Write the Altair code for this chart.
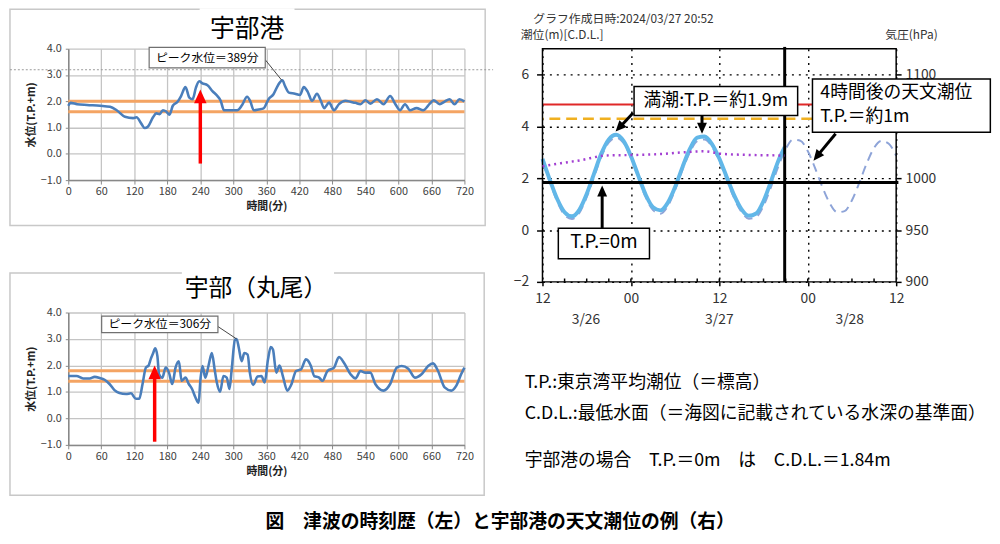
import altair as alt
import pandas as pd

FONT = "Noto Sans CJK JP"

# ---------------- 宇部港 : tsunami time history ----------------
UBE_T = [0, 4, 16, 34, 58, 76, 88, 103, 118, 124,
         133, 139, 145, 154, 160, 166, 172, 178, 184, 190,
         199, 205, 213, 220, 226, 232, 238, 244, 253, 262,
         271, 277, 283, 292, 307, 316, 325, 331, 337, 346,
         355, 364, 373, 382, 389, 394, 401, 412, 421, 428,
         435, 443, 452, 459, 465, 474, 483, 492, 504, 513,
         522, 531, 540, 549, 561, 573, 585, 594, 603, 612,
         621, 633, 645, 657, 664, 675, 684, 693, 702, 711,
         720]
UBE_V = [1.83, 1.94, 1.89, 1.86, 1.83, 1.79, 1.66, 1.41, 1.36, 1.39,
         1.14, 0.98, 1.04, 1.39, 1.54, 1.51, 1.66, 1.61, 1.49, 1.83,
         1.99, 2.20, 2.54, 2.14, 2.08, 2.52, 2.76, 2.68, 2.61, 2.39,
         2.20, 2.02, 1.66, 1.66, 1.66, 1.86, 2.17, 1.99, 1.66, 1.69,
         1.73, 2.08, 2.27, 2.64, 2.80, 2.58, 2.33, 2.29, 2.24, 2.54,
         2.37, 2.02, 2.29, 2.02, 1.74, 1.95, 1.66, 1.89, 2.02, 1.98,
         1.94, 1.89, 2.04, 1.91, 2.08, 1.89, 2.20, 1.91, 1.66, 1.89,
         1.66, 1.74, 1.66, 1.91, 2.04, 1.89, 1.99, 2.08, 1.89, 2.08,
         1.99]
UBE_BAND = [2.0, 1.6]

# ---------------- 宇部（丸尾） ----------------
MARUO_T = [0, 15, 27, 39, 48, 57, 66, 75, 84, 93,
           105, 114, 123, 129, 135, 141, 146, 150, 154, 158,
           162, 165, 171, 177, 183, 189, 195, 201, 206, 213,
           219, 225, 231, 237, 240, 244, 249, 255, 261, 266,
           270, 276, 282, 288, 293, 297, 303, 306, 310, 315,
           320, 326, 330, 336, 344, 351, 357, 363, 368, 372,
           378, 384, 390, 398, 405, 414, 423, 432, 441, 447,
           456, 462, 471, 483, 492, 501, 513, 522, 531, 540,
           549, 558, 573, 585, 597, 606, 618, 630, 642, 654,
           663, 672, 684, 696, 705, 714, 720]
MARUO_V = [1.60, 1.60, 1.51, 1.51, 1.57, 1.53, 1.46, 1.30, 1.07, 0.96,
           0.92, 0.95, 0.74, 0.74, 1.30, 1.92, 2.00, 2.25, 2.45, 2.65,
           2.35, 1.67, 1.54, 1.92, 1.73, 1.30, 1.92, 2.16, 1.42, 1.54,
           1.30, 1.11, 0.80, 0.59, 1.42, 1.98, 1.54, 2.00, 2.47, 1.85,
           1.36, 1.01, 1.60, 1.54, 1.11, 1.85, 2.97, 3.00, 2.66, 2.16,
           2.47, 2.41, 1.73, 1.26, 1.58, 1.60, 1.36, 2.23, 2.70, 2.60,
           1.73, 2.00, 1.60, 1.05, 1.26, 1.79, 1.85, 2.23, 1.98, 1.60,
           1.54, 1.42, 1.79, 1.92, 2.32, 2.10, 1.67, 1.51, 1.79, 1.73,
           1.73, 1.30, 1.05, 1.30, 1.92, 1.98, 1.88, 1.54, 1.67, 1.98,
           2.08, 1.79, 1.17, 1.05, 1.23, 1.67, 1.92]
MARUO_BAND = [1.8, 1.4]

MIN_TICKS = list(range(0, 721, 60))
LEVEL_TICKS = [-1.0, 0.0, 1.0, 2.0, 3.0, 4.0]

# ---------------- 宇部港 astronomical tide (hours from 3/26 12:00) ----------------
OBS_H = list(range(0, 33)) + [32.87]
OBS_TIDE = [2.75, 1.94, 1.20, 0.69, 0.53, 0.78, 1.39, 2.18, 2.96, 3.50,
            3.68, 3.44, 2.86, 2.10, 1.37, 0.88, 0.76, 1.05, 1.66, 2.43,
            3.13, 3.57, 3.61, 3.32, 2.76, 2.05, 1.35, 0.81, 0.55, 0.64,
            1.12, 1.87, 2.67, 3.20]
PRED_H = list(range(0, 49))
PRED_TIDE = [2.60, 1.85, 1.10, 0.58, 0.43, 0.66, 1.27, 2.05, 2.84, 3.38,
             3.57, 3.36, 2.78, 2.02, 1.27, 0.77, 0.63, 0.92, 1.55, 2.32,
             3.00, 3.43, 3.50, 3.22, 2.66, 1.95, 1.24, 0.70, 0.44, 0.51,
             0.94, 1.65, 2.45, 3.12, 3.49, 3.45, 3.05, 2.39, 1.65, 1.03,
             0.69, 0.73, 1.15, 1.83, 2.57, 3.17, 3.44, 3.33, 2.87]
PRES_H = [0, 2.5, 5.1, 8.7, 12.7, 16.4, 19.1, 21.8, 24.5, 28.1, 32.87]
PRES_HPA = [1011.5, 1014.5, 1017.3, 1022.0, 1022.5, 1023.5, 1025.0, 1026.0, 1023.5, 1022.5, 1022.0]
ALERT_LEVEL = 4.85
REF_LEVEL = 4.3
TP0_CDL = 1.84
NOW_H = 32.87
HOUR_TICKS = [0, 12, 24, 36, 48]
MINOR_H = list(range(3, 48, 3))
TIDE_TICKS = [-2, 0, 2, 4, 6]
HPA_TICKS = [900, 950, 1000, 1050, 1100]
DATE_LABELS = ["3/26", "3/27", "3/28"]
DATE_H = [5.9, 24.0, 41.7]

ARROW_PATH = "M0,0L-1,2.2L1,2.2Z"
RED_ARROW_PATH = "M0,0L-0.9,2L0.9,2Z"

one = pd.DataFrame({"k": [0]})


def tsunami_panel(title, t, v, band, peak_label, box, leader, arrow, frame, gap,
                  title_xy, title_size, height, dotted=None):
    xs = alt.Scale(domain=[0, 720], nice=False, zero=False)
    ys = alt.Scale(domain=[-1, 4], nice=False, zero=False)
    xaxis = alt.Axis(values=MIN_TICKS, title="時間(分)", labelFontSize=11, labelColor="#404040",
                     labelPadding=2, tickSize=4, tickColor="#888888", domainColor="#888888",
                     domainWidth=1.5, gridColor="#c4c4c4", gridWidth=1.3, titleFontSize=11,
                     titleFontWeight="bold", titleColor="#222222", titlePadding=4, labelFlush=False,
                     labelOverlap=False, labelSeparation=0)
    yaxis = alt.Axis(values=LEVEL_TICKS, format=".1f", title="水位(T.P.+m)", labelFontSize=11,
                     labelColor="#404040", labelPadding=4, tickSize=3, tickColor="#888888",
                     domainColor="#888888", domainWidth=1.5, gridColor="#c4c4c4", gridWidth=1.3,
                     titleFontSize=11, titleFontWeight="bold", titleColor="#222222", titlePadding=4,
                     labelOverlap=False, labelFlush=False, labelSeparation=0)

    def X(f="t:Q"):
        return alt.X(f, scale=xs, axis=xaxis)

    def Y(f="v:Q"):
        return alt.Y(f, scale=ys, axis=yaxis)

    frame_l = alt.Chart(one).mark_rect(fill="transparent", stroke="#c8c8c8", strokeWidth=1.5).encode(
        x=alt.value(frame[0]), x2=alt.value(frame[1]), y=alt.value(frame[2]), y2=alt.value(frame[3]))
    gap_l = alt.Chart(one).mark_rect(fill="white").encode(
        x=alt.value(gap[0]), x2=alt.value(gap[1]), y=alt.value(gap[2]), y2=alt.value(gap[3]))
    title_l = alt.Chart(one).mark_text(text=title, fontSize=title_size, color="black", align="center",
                                       baseline="middle").encode(
        x=alt.value(title_xy[0]), y=alt.value(title_xy[1]))
    line_l = alt.Chart(pd.DataFrame({"t": t, "v": v})).mark_line(
        color="#4a7ebb", strokeWidth=2.6, interpolate="monotone").encode(x=X(), y=Y())
    band_l = alt.Chart(pd.DataFrame({"v": band})).mark_rule(color="#f4a463", strokeWidth=3).encode(y=Y())
    leader_l = alt.Chart(pd.DataFrame({"t": [leader[0]], "v": [leader[1]],
                                       "t2": [leader[2]], "v2": [leader[3]]})).mark_rule(
        color="#444444", strokeWidth=1).encode(x=X(), y=Y(), x2="t2:Q", y2="v2:Q")
    box_l = alt.Chart(pd.DataFrame({"t": [box[0]], "t2": [box[1]], "v": [box[2]], "v2": [box[3]]})).mark_rect(
        fill="white", stroke="#707070", strokeWidth=1.2).encode(x=X(), x2="t2:Q", y=Y(), y2="v2:Q")
    box_txt = alt.Chart(pd.DataFrame({"t": [(box[0] + box[1]) / 2], "v": [(box[2] + box[3]) / 2]})).mark_text(
        text=peak_label, fontSize=12, color="black", align="center", baseline="middle").encode(x=X(), y=Y())
    shaft = alt.Chart(pd.DataFrame({"t": [arrow[0]], "v": [arrow[1]], "v2": [arrow[2]]})).mark_rule(
        color="#ff0000", strokeWidth=3.5).encode(x=X(), y=Y(), y2="v2:Q")
    head = alt.Chart(pd.DataFrame({"t": [arrow[0]], "v": [arrow[3]]})).mark_point(
        shape=RED_ARROW_PATH, filled=True, size=196, color="#ff0000", opacity=1, strokeWidth=0).encode(
        x=X(), y=Y())

    layers = [frame_l, gap_l, title_l]
    if dotted is not None:
        layers.append(alt.Chart(pd.DataFrame({"v": [dotted[0]]})).mark_rule(
            color="#999999", strokeWidth=1, strokeDash=[2, 2]).encode(
            y=Y(), x=alt.value(dotted[1]), x2=alt.value(dotted[2])))
    layers += [band_l, line_l, leader_l, box_l, box_txt, shaft, head]
    return alt.layer(*layers).properties(width=401, height=height)


panel_a = tsunami_panel("宇部港", UBE_T, UBE_V, UBE_BAND, "ピーク水位＝389分",
                        box=(147, 358, 3.27, 4.05), leader=(358, 3.58, 388, 2.8),
                        arrow=(240, -0.37, 2.0, 2.45), frame=(-59, 422, -40, 179),
                        gap=(133, 229, -41, -39), title_xy=(181, -20), title_size=25, height=133,
                        dotted=(3.2, -59, 430))
panel_b = tsunami_panel("宇部（丸尾）", MARUO_T, MARUO_V, MARUO_BAND, "ピーク水位＝306分",
                        box=(60.7, 272, 3.24, 3.86), leader=(272, 3.47, 306, 3.0),
                        arrow=(157, -0.88, 1.55, 2.0), frame=(-59, 421, -40, 185),
                        gap=(115, 269, -41, -39), title_xy=(190, -24), title_size=24, height=134)

# ---------------- right: tide chart ----------------
hs = alt.Scale(domain=[0, 48], nice=False, zero=False)
ts = alt.Scale(domain=[-2, 7], nice=False, zero=False)
ps = alt.Scale(domain=[900, 1125], nice=False, zero=False)
haxis = alt.Axis(values=HOUR_TICKS, labelExpr="datum.value % 24 == 0 ? '12' : '00'", title=None,
                 grid=True, gridDash=[2, 5], gridColor="black", gridWidth=1.4, domain=False,
                 tickColor="black", tickSize=4, tickWidth=1.5, labelFontSize=14, labelColor="#333333",
                 labelPadding=6, labelFlush=False, labelOverlap=False)
taxis = alt.Axis(values=TIDE_TICKS, title=None, grid=True, gridDash=[2, 5], gridColor="black",
                 gridWidth=1.4, domain=False, tickColor="black", tickSize=6, tickWidth=1.5,
                 labelFontSize=14, labelColor="#333333", labelPadding=8, labelOverlap=False)
paxis = alt.Axis(orient="right", values=HPA_TICKS, format="d", title=None, grid=False, domain=False,
                 tickColor="black", tickSize=5, tickWidth=1.5, labelFontSize=14,
                 labelColor="#333333", labelPadding=4, zindex=0, labelOverlap=False)
HX = alt.X("h:Q", scale=hs, axis=haxis)
TY = alt.Y("tide:Q", scale=ts, axis=taxis)


def hx():
    return alt.X("h:Q", scale=hs)


def ty():
    return alt.Y("tide:Q", scale=ts)


anchor = alt.Chart(one).mark_rect(opacity=0).encode(
    x=alt.value(-40), x2=alt.value(-39), y=alt.value(-41), y2=alt.value(-40))
pred_l = alt.Chart(pd.DataFrame({"h": PRED_H, "tide": PRED_TIDE})).mark_line(
    color="#8ea4d8", strokeWidth=2, strokeDash=[9, 6], interpolate="monotone").encode(x=HX, y=TY)
obs_l = alt.Chart(pd.DataFrame({"h": OBS_H, "tide": OBS_TIDE})).mark_line(
    color="#62b7e8", strokeWidth=4, interpolate="monotone").encode(x=hx(), y=ty())
alert_l = alt.Chart(pd.DataFrame({"tide": [ALERT_LEVEL]})).mark_rule(color="#e02828", strokeWidth=2).encode(y=ty())
ref_l = alt.Chart(pd.DataFrame({"tide": [REF_LEVEL]})).mark_rule(
    color="#f0b020", strokeWidth=2.5, strokeDash=[11, 6]).encode(y=ty())
frame_r = alt.Chart(pd.DataFrame({"h": [0], "h2": [48], "tide": [-2], "tide2": [7]})).mark_rect(
    fill="transparent", stroke="black", strokeWidth=1.5).encode(x=hx(), x2="h2:Q", y=ty(), y2="tide2:Q")
minor_l = alt.Chart(pd.DataFrame({"h": MINOR_H, "tide": [-2] * len(MINOR_H),
                                  "tide2": [-1.87] * len(MINOR_H)})).mark_rule(
    color="black", strokeWidth=1.5).encode(x=hx(), y=ty(), y2="tide2:Q")
tp0_l = alt.Chart(pd.DataFrame({"h": [0], "h2": [48.3], "tide": [TP0_CDL]})).mark_rule(
    color="black", strokeWidth=3).encode(x=hx(), x2="h2:Q", y=ty())
now_l = alt.Chart(pd.DataFrame({"h": [NOW_H], "tide": [-2], "tide2": [7.07]})).mark_rule(
    color="black", strokeWidth=3).encode(x=hx(), y=ty(), y2="tide2:Q")

shafts = pd.DataFrame({"h": [12.29, 21.65, 39.78, 8.1], "tide": [4.52, 4.42, 3.72, 0.07],
                       "h2": [10.74, 21.65, 37.55, 8.1], "tide2": [4.05, 4.06, 2.95, 1.38]})
heads = pd.DataFrame({"h": [9.92, 21.65, 36.78, 8.1], "tide": [3.80, 3.72, 2.68, 1.72],
                      "ang": [223, 180, 219, 0]})
shaft_l = alt.Chart(shafts).mark_rule(color="black", strokeWidth=3).encode(
    x=hx(), y=ty(), x2="h2:Q", y2="tide2:Q")
head_l = alt.Chart(heads).mark_point(shape=ARROW_PATH, filled=True, size=100, color="black",
                                     opacity=1, strokeWidth=0).encode(
    x=hx(), y=ty(), angle=alt.Angle("ang:Q", scale=None))

boxes = pd.DataFrame({"h": [12.43, 36.64, 2.15], "h2": [34.63, 60.78, 14.52],
                      "tide": [5.54, 5.83, 0.07], "tide2": [4.42, 3.78, -1.11]})
box_l = alt.Chart(boxes).mark_rect(fill="white", stroke="black", strokeWidth=1.5).encode(
    x=hx(), x2="h2:Q", y=ty(), y2="tide2:Q")
t1 = alt.Chart(pd.DataFrame({"h": [23.53], "tide": [4.98]})).mark_text(
    text="満潮:T.P.＝約1.9m", fontSize=18, color="black", align="center", baseline="middle").encode(x=hx(), y=ty())
t2 = alt.Chart(pd.DataFrame({"h": [37.7], "tide": [5.28]})).mark_text(
    text="4時間後の天文潮位", fontSize=18, color="black", align="left", baseline="middle").encode(x=hx(), y=ty())
t3 = alt.Chart(pd.DataFrame({"h": [37.7], "tide": [4.35]})).mark_text(
    text="T.P.＝約1m", fontSize=18, color="black", align="left", baseline="middle").encode(x=hx(), y=ty())
t4 = alt.Chart(pd.DataFrame({"h": [8.34], "tide": [-0.48]})).mark_text(
    text="T.P.=0m", fontSize=19, color="black", align="center", baseline="middle").encode(x=hx(), y=ty())
dates_l = alt.Chart(pd.DataFrame({"h": DATE_H, "lab": DATE_LABELS})).mark_text(
    fontSize=14, color="#333333", align="center", baseline="middle").encode(
    x=hx(), y=alt.value(275), text="lab:N")


def ptext(txt, x, y, size, align="left", color="#333333"):
    return alt.Chart(one).mark_text(text=txt, fontSize=size, color=color, align=align,
                                    baseline="middle").encode(x=alt.value(x), y=alt.value(y))


head_texts = [
    ptext("グラフ作成日時:2024/03/27 20:52", 82, -30, 12, "center"),
    ptext("潮位(m)[C.D.L.]", -22, -14, 12),
    ptext("気圧(hPa)", 400, -14, 12, "right"),
    ptext("T.P.:東京湾平均潮位（＝標高）", -18, 338, 18, color="black"),
    ptext("C.D.L.:最低水面（＝海図に記載されている水深の基準面）", -18, 370, 18, color="black"),
    ptext("宇部港の場合　T.P.＝0m　は　C.D.L.＝1.84m", -18, 417, 18, color="black"),
]

tide_layers = alt.layer(anchor, pred_l, alert_l, ref_l, obs_l, frame_r, minor_l, tp0_l, now_l,
                        shaft_l, head_l, box_l, t1, t2, t3, t4, dates_l, *head_texts)
pres_l = alt.Chart(pd.DataFrame({"h": PRES_H, "hpa": PRES_HPA})).mark_line(
    color="#a23fd2", strokeWidth=2.5, strokeDash=[2, 4], interpolate="monotone").encode(
    x=alt.X("h:Q", scale=hs), y=alt.Y("hpa:Q", scale=ps, axis=paxis))
panel_c = alt.layer(tide_layers, pres_l).resolve_scale(y="independent").properties(width=358, height=236)

left = alt.vconcat(panel_a, panel_b, spacing=44)
chart = alt.hconcat(left, panel_c, spacing=8).properties(
    padding={"left": 0, "top": -4, "right": 0, "bottom": 0},
    title=alt.TitleParams("図　津波の時刻歴（左）と宇部港の天文潮位の例（右）", orient="bottom",
                          anchor="middle", fontSize=19, fontWeight="bold", color="black", offset=17),
).configure(font=FONT).configure_view(stroke="transparent").configure_axis(labelOverlap=False)

chart.save("out.html", embed_options={"renderer": "svg", "actions": False})
